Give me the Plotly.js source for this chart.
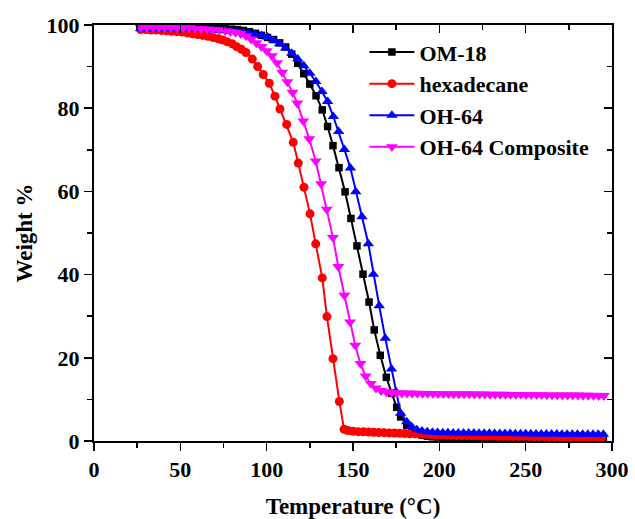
<!DOCTYPE html>
<html>
<head>
<meta charset="utf-8">
<script src="https://cdn.plot.ly/plotly-3.0.1.min.js"></script>
<style>html,body{margin:0;padding:0;background:#fff;}#chart{width:635px;height:519px;}</style>
</head>
<body>
<div id="chart"></div>
<script>
// ---- Data ----
var seriesNames = ["OM-18", "hexadecane", "OH-64", "OH-64 Composite"];

// OM-18 (black squares)
var om18T = [27,30.5,34,37.5,41,44.5,48,51.5,55,58.5,62,65.5,69,72.5,76,79.5,83,86.5,90,93.5,97,100.5,104,107.5,111,114.5,118,121.5,125,128.6,132.2,135.3,138.4,141.9,145.4,148.8,152.3,155.8,159.3,162.3,165.8,169.3,172.3,175.3,177.6,181.1,184,
  187,190,193,196,199,202,205,208,211,214,217,220,223,226,229,232,235,238,241,244,247,250,253,256,259,262,265,268,271,274,277,280,283,286,289,292,295];
var om18W = [99.7,99.7,99.7,99.7,99.7,99.6,99.6,99.6,99.6,99.5,99.5,99.4,99.4,99.3,99.2,99.0,98.9,98.7,98.4,98.0,97.5,97.0,96.5,95.7,94.7,93.0,90.8,88.3,85.8,83.0,79.6,75.6,71.0,65.7,59.9,53.5,46.9,40.1,33.4,26.7,20.6,15.3,11.5,8.1,5.8,3.8,2.6,
  1.8,1.4,1.15,1.0,0.95,0.9,0.9,0.9,0.85,0.85,0.85,0.85,0.8,0.8,0.8,0.8,0.8,0.8,0.8,0.75,0.75,0.75,0.75,0.75,0.75,0.75,0.75,0.7,0.7,0.7,0.7,0.7,0.7,0.7,0.7,0.7,0.7];

// hexadecane (red circles)
var hexT = [27,30,33,36,39,42,45,48,51,54,57,60,63,66,69,72,74.5,77,80,82.6,85.3,88,91.7,94.8,98,101.5,104.8,107.7,111.6,115.4,118.3,121.6,125.1,128.4,132.2,134.9,138.4,142.1,144.8,
  147,150,153,156,159,162,165,168,171,174,177,180,183,186,189,192,195,198,201,204,207,210,213,216,219,222,225,228,231,234,237,240,243,246,249,252,255,258,261,264,267,270,273,276,279,282,285,288,291,294];
var hexW = [98.9,98.9,98.8,98.8,98.7,98.6,98.5,98.4,98.3,98.1,97.9,97.7,97.5,97.3,97.0,96.7,96.4,96.0,95.5,94.8,94.2,93.4,91.8,90.0,88.1,86.0,82.9,79.8,76.1,71.8,66.8,61.0,54.6,47.4,39.2,29.9,19.8,9.5,2.8,
  2.5,2.35,2.25,2.2,2.15,2.1,2.05,2.0,1.95,1.9,1.85,1.8,1.75,1.7,1.65,1.6,1.55,1.5,1.45,1.4,1.4,1.35,1.3,1.3,1.25,1.25,1.2,1.2,1.2,1.15,1.15,1.15,1.1,1.1,1.1,1.1,1.05,1.05,1.05,1.05,1.0,1.0,1.0,1.0,1.0,0.95,0.95,0.95,0.95,0.95];

// OH-64 (blue up-triangles)
var oh64T = [27,30.5,34,37.5,41,44.5,48,51.5,55,58.5,62,65.5,69,72.5,76,79.5,83,86.5,90,93.5,97,100.5,104,107.5,111,114.5,118,121.5,125,128.5,132,135.3,138.6,141.7,145,148.5,151.6,155.2,158.9,161.8,165.2,168.7,172.3,175,177.6,181.1,184,
  187,190,193,196,199,202,205,208,211,214,217,220,223,226,229,232,235,238,241,244,247,250,253,256,259,262,265,268,271,274,277,280,283,286,289,292,295];
var oh64W = [99.1,99.1,99.1,99.1,99.1,99.1,99.1,99.0,99.0,99.0,98.9,98.9,98.8,98.7,98.6,98.5,98.4,98.2,98.0,97.8,97.5,97.1,96.3,95.5,94.5,93.2,91.8,90.2,88.4,86.4,84.0,81.6,78.0,74.4,70.1,65.6,59.9,53.9,47.4,40.1,32.5,24.7,17.3,11.8,6.7,4.6,3.4,
  2.7,2.4,2.2,2.1,2.05,2.0,2.0,1.95,1.95,1.9,1.9,1.9,1.85,1.85,1.85,1.8,1.8,1.8,1.8,1.75,1.75,1.75,1.75,1.7,1.7,1.7,1.7,1.7,1.65,1.65,1.65,1.65,1.6,1.6,1.6,1.6,1.6];

// OH-64 Composite (magenta down-triangles)
var compT = [27,30.5,34,37.5,41,44.5,48,51.5,55,58.5,62,65.5,69,72.5,76,79,82,85,88,91,94,97,100,103,106,109,112,115,117.7,121.2,124.7,128.4,131.5,134.8,138.4,141.5,145,148.3,151.3,154.3,157.3,160.3,163.3,166.3,169.3,
  172.3,175.3,178.3,181.3,184.3,187.3,190.3,193.3,196.3,199.3,202.3,205.3,208.3,211.3,214.3,217.3,220.3,223.3,226.3,229.3,232.3,235.3,238.3,241.3,244.3,247.3,250.3,253.3,256.3,259.3,262.3,265.3,268.3,271.3,274.3,277.3,280.3,283.3,286.3,289.3,292.3,295.3];
var compW = [99.4,99.4,99.4,99.4,99.4,99.4,99.3,99.3,99.3,99.2,99.1,99.0,98.9,98.8,98.6,98.4,98.2,97.9,97.4,96.6,95.7,94.8,93.8,92.6,90.9,88.6,86.3,83.8,81.2,76.9,72.6,67.3,61.8,55.7,48.9,41.9,35.0,28.6,23.0,18.6,15.6,13.8,12.7,12.1,11.8,
  11.6,11.55,11.5,11.5,11.45,11.45,11.4,11.4,11.4,11.35,11.35,11.35,11.3,11.3,11.3,11.3,11.25,11.25,11.25,11.2,11.2,11.2,11.2,11.15,11.15,11.15,11.1,11.1,11.1,11.1,11.05,11.05,11.05,11.0,11.0,11.0,11.0,10.95,10.95,10.95,10.9,10.9];

var xTicks = [0, 50, 100, 150, 200, 250, 300];
var yTicks = [0, 20, 40, 60, 80, 100];

// ---- Styles ----
var FONT = "Liberation Serif, Times New Roman, serif";
var colors = ["#000000", "#ff0000", "#0000ff", "#ff00ff"];
var symbols = ["square", "circle", "triangle-up", "triangle-down"];
var sizes = [7.5, 9, 10, 10.5];
var xs = [om18T, hexT, oh64T, compT];
var ys = [om18W, hexW, oh64W, compW];

var data = [];
for (var i = 0; i < 4; i++) {
  data.push({
    x: xs[i], y: ys[i], name: seriesNames[i],
    type: "scatter", mode: "lines+markers",
    line: {color: colors[i], width: 2},
    marker: {color: colors[i], symbol: symbols[i], size: sizes[i], line: {width: 0}}
  });
}
// dummy trace for the mirrored inside-tick axes
data.push({x: [null], y: [null], xaxis: "x2", yaxis: "y2", showlegend: false, hoverinfo: "skip", mode: "markers"});

var tickFont = {family: FONT, size: 22, color: "#000", weight: "bold"};
var layout = {
  width: 635, height: 519,
  margin: {l: 94, r: 23, t: 25, b: 78},
  paper_bgcolor: "#fff", plot_bgcolor: "#fff",
  showlegend: true,
  legend: {
    x: 0.522, y: 0.985, xanchor: "left", yanchor: "top",
    bgcolor: "rgba(0,0,0,0)", borderwidth: 0,
    font: {family: FONT, size: 22, color: "#000", weight: "bold"},
    itemwidth: 45, tracegroupgap: 0
  },
  xaxis: {
    range: [0, 300], tickvals: xTicks, ticktext: xTicks.map(String),
    ticks: "outside", ticklen: 8, tickwidth: 1.5, tickcolor: "#000",
    minor: {tickvals: [25, 75, 125, 175, 225, 275], ticks: "outside", ticklen: 5, tickwidth: 1.5, tickcolor: "#000"},
    showline: true, linecolor: "#000", linewidth: 2, mirror: true,
    showgrid: false, zeroline: false,
    tickfont: tickFont,
    title: {text: "Temperature (°C)", font: {family: FONT, size: 23, color: "#000", weight: "bold"}, standoff: 18}
  },
  yaxis: {
    range: [0, 100], tickvals: yTicks, ticktext: yTicks.map(String),
    ticks: "outside", ticklen: 8, tickwidth: 1.5, tickcolor: "#000",
    minor: {tickvals: [10, 30, 50, 70, 90], ticks: "outside", ticklen: 5, tickwidth: 1.5, tickcolor: "#000"},
    showline: true, linecolor: "#000", linewidth: 2, mirror: true,
    showgrid: false, zeroline: false,
    tickfont: tickFont,
    title: {text: "Weight %", font: {family: FONT, size: 23, color: "#000", weight: "bold"}, standoff: 8}
  },
  xaxis2: {
    overlaying: "x", side: "top", range: [0, 300], tickvals: xTicks,
    ticks: "inside", ticklen: 8, tickwidth: 1.5, tickcolor: "#000",
    minor: {tickvals: [25, 75, 125, 175, 225, 275], ticks: "inside", ticklen: 5, tickwidth: 1.5, tickcolor: "#000"},
    showticklabels: false, showline: false, showgrid: false, zeroline: false
  },
  yaxis2: {
    overlaying: "y", side: "right", range: [0, 100], tickvals: yTicks,
    ticks: "inside", ticklen: 8, tickwidth: 1.5, tickcolor: "#000",
    minor: {tickvals: [10, 30, 50, 70, 90], ticks: "inside", ticklen: 5, tickwidth: 1.5, tickcolor: "#000"},
    showticklabels: false, showline: false, showgrid: false, zeroline: false
  }
};

Plotly.newPlot("chart", data, layout, {displayModeBar: false, staticPlot: true});
</script>
</body>
</html>
